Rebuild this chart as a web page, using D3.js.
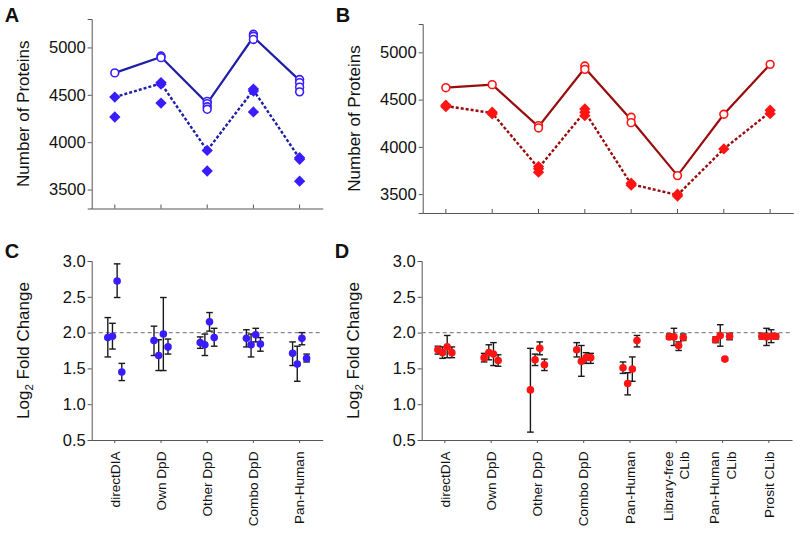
<!DOCTYPE html>
<html><head><meta charset="utf-8">
<script src="https://cdn.jsdelivr.net/npm/d3@7"></script>
<style>
html,body{margin:0;padding:0;background:#fff;}
svg{display:block;font-family:"Liberation Sans",Arial,sans-serif;}
</style></head>
<body>
<svg id="c" width="800" height="534"></svg>
<script>
// ---------- DATA ----------
const catsLeft = [["directDIA"],["Own DpD"],["Other DpD"],["Combo DpD"],["Pan-Human"]];
const catsRight = [["directDIA"],["Own DpD"],["Other DpD"],["Combo DpD"],["Pan-Human"],["Library-free","CLib"],["Pan-Human","CLib"],["Prosit CLib"]];
const proteinTicks = [3500,4000,4500,5000];
const fcTicks = [0.5,1.0,1.5,2.0,2.5,3.0];

// Panel A (protein counts)
const aSolid = [4731,4900,4410,5110,4652];
const aCircles = [[4731],[4909,4892],[4430,4406,4374,4347],[5139,5118,5084],[4661,4629,4581,4531]];
const aDashed = [4476,4620,3913,4550,3828];
const aDiamonds = [[4476,4266],[4629,4612,4413],[3913,3696],[4560,4539,4319],[3836,3820,3588]];

// Panel B (protein counts)
const bSolid = [4626,4658,4214,4834,4287,3696,4345,4873];
const bCircles = [[4626],[4658],[4224,4200],[4855,4820],[4313,4256],[3696],[4345],[4873]];
const bDashed = [4432,4358,3775,4372,3605,3490,3978,4370];
const bDiamonds = [[4440,4425],[4366,4348],[3791,3767,3732],[4401,4366,4330],[3615,3594],[3499,3480],[3978],[4387,4351]];

// Panel C (log2 fold change, 4 per category) value / low / high
const cVal = [[1.93,1.95,2.72,1.45],[1.89,1.68,1.98,1.80],[1.86,1.83,2.15,1.93],[1.92,1.83,1.97,1.84],[1.71,1.56,1.92,1.64]];
const cLo  = [[1.66,1.77,2.49,1.33],[1.68,1.47,1.47,1.70],[1.78,1.68,2.02,1.81],[1.80,1.66,1.87,1.74],[1.54,1.32,1.83,1.59]];
const cHi  = [[2.21,2.13,2.96,1.57],[2.09,1.90,2.49,1.91],[1.94,1.98,2.28,2.06],[2.04,1.98,2.06,1.93],[1.87,1.81,2.00,1.70]];

// Panel D
const dVal = [[1.76,1.72,1.80,1.72],[1.65,1.72,1.70,1.61],[1.20,1.62,1.78,1.55],[1.76,1.60,1.65,1.65],[1.51,1.29,1.49,1.89],[1.94,1.94,1.82,1.93],[1.90,1.96,1.63,1.95],[1.95,1.94,1.95,1.95]];
const dLo  = [[1.70,1.64,1.65,1.65],[1.59,1.62,1.54,1.53],[0.61,1.54,1.69,1.47],[1.66,1.39,1.57,1.57],[1.43,1.13,1.32,1.80],[1.91,1.82,1.75,1.89],[1.86,1.81,1.61,1.90],[1.91,1.82,1.86,1.91]];
const dHi  = [[1.81,1.80,1.96,1.80],[1.71,1.83,1.86,1.69],[1.78,1.70,1.87,1.63],[1.86,1.82,1.72,1.71],[1.59,1.44,1.66,1.96],[1.98,2.06,1.87,1.98],[1.94,2.11,1.65,1.99],[1.99,2.06,2.04,1.98]];
const reps = [0,1,2,3];
const refLine = 2.0;

// ---------- STYLE ----------
const blueMark = "#3a1dff", blueLine = "#1e1ea6";
const redMark = "#ff1414", redLine = "#9a0c0c";
const axisCol = "#555";
const svg = d3.select("#c");

function yAxis(g, scale, ticks, fmt){
  const ax = d3.axisLeft(scale).tickValues(ticks).tickFormat(fmt).tickSize(4).tickPadding(2);
  g.call(ax);
  g.select(".domain").attr("stroke", axisCol);
  g.selectAll(".tick line").attr("stroke", axisCol);
  g.selectAll(".tick text").attr("font-size", 16.5).attr("fill", "#111").attr("font-family","Liberation Sans, Arial, sans-serif");
}
function xAxis(g, scale, inner){
  const ax = d3.axisBottom(scale).tickFormat("").tickSizeOuter(0).tickSizeInner(inner);
  g.call(ax);
  g.select(".domain").attr("stroke", axisCol);
  g.selectAll(".tick line").attr("stroke", axisCol);
}

function proteinPanel(x0, x1, yTop, yBot, cats, solid, circles, dashed, diamonds, mark, line, letter){
  const x = d3.scaleBand().domain(d3.range(cats.length)).range([x0, x1]).padding(0);
  const cx = i => x(i) + x.bandwidth()/2;
  const y = d3.scaleLinear().domain([3300,5300]).range([yBot, yTop]);
  const g = svg.append("g");
  yAxis(g.append("g").attr("transform",`translate(${x0},0)`), y, proteinTicks, d3.format("d"));
  const gx = g.append("g").attr("transform",`translate(0,${yBot})`);
  xAxis(gx, x, -4);
  g.append("path").datum(solid).attr("fill","none").attr("stroke",line).attr("stroke-width",2.2)
    .attr("d", d3.line().x((d,i)=>cx(i)).y(d=>y(d)));
  g.append("path").datum(dashed).attr("fill","none").attr("stroke",line).attr("stroke-width",2.4)
    .attr("stroke-dasharray","3,2")
    .attr("d", d3.line().x((d,i)=>cx(i)).y(d=>y(d)));
  diamonds.forEach((arr,i)=>arr.forEach(v=>{
    g.append("path").attr("d", d3.symbol().type(d3.symbolSquare).size(64)())
      .attr("transform",`translate(${cx(i)},${y(v)}) rotate(45)`).attr("fill",mark);
  }));
  circles.forEach((arr,i)=>arr.forEach(v=>{
    g.append("circle").attr("cx",cx(i)).attr("cy",y(v)).attr("r",3.9)
      .attr("fill","#fff").attr("stroke",mark).attr("stroke-width",1.6);
  }));
  g.append("text").attr("transform",`translate(${x0-63},${(yTop+yBot)/2}) rotate(-90)`)
    .attr("text-anchor","middle").attr("font-size",17).attr("fill","#111").text("Number of Proteins");
  g.append("text").attr("x", x0-87).attr("y", 22).attr("font-size",20).attr("font-weight","bold").attr("fill","#111").text(letter);
}

function fcPanel(x0, x1, cats, vals, lo, hi, mark, letter){
  const yTop = 261, yBot = 440;
  const x = d3.scaleBand().domain(d3.range(cats.length)).range([x0, x1]).padding(0);
  const cx = i => x(i) + x.bandwidth()/2;
  const off = d3.scalePoint().domain(reps).range([-7, 7]);
  const y = d3.scaleLinear().domain([0.5,3.0]).range([yBot, yTop]);
  const g = svg.append("g");
  yAxis(g.append("g").attr("transform",`translate(${x0},0)`), y, fcTicks, d3.format(".1f"));
  const gx = g.append("g").attr("transform",`translate(0,${yBot})`);
  xAxis(gx, x, 3);
  g.append("line").attr("x1",x0).attr("x2",x1).attr("y1",y(refLine)).attr("y2",y(refLine))
    .attr("stroke","#8a8a8a").attr("stroke-width",1.3).attr("stroke-dasharray","4,3");
  cats.forEach((lab,i)=>{
    const n = lab.length;
    lab.forEach((t,k)=>{
      const dx = (k - (n-1)/2) * 16.6;
      g.append("text").attr("transform",`translate(${cx(i)+dx},${yBot+11.5}) rotate(-90)`)
        .attr("text-anchor","end").attr("dy","0.35em").attr("font-size",13.6).attr("fill","#111").text(t);
    });
  });
  vals.forEach((arr,i)=>arr.forEach((v,r)=>{
    const px = cx(i)+off(r);
    const eg = g.append("g").attr("stroke","#1a1a1a").attr("stroke-width",1.4);
    eg.append("line").attr("x1",px).attr("x2",px).attr("y1",y(lo[i][r])).attr("y2",y(hi[i][r]));
    eg.append("line").attr("x1",px-3.3).attr("x2",px+3.3).attr("y1",y(lo[i][r])).attr("y2",y(lo[i][r]));
    eg.append("line").attr("x1",px-3.3).attr("x2",px+3.3).attr("y1",y(hi[i][r])).attr("y2",y(hi[i][r]));
  }));
  vals.forEach((arr,i)=>arr.forEach((v,r)=>{
    g.append("circle").attr("cx",cx(i)+off(r)).attr("cy",y(v)).attr("r",3.8).attr("fill",mark);
  }));
  const tt = g.append("text").attr("transform",`translate(${x0-63},${(yTop+yBot)/2}) rotate(-90)`)
    .attr("text-anchor","middle").attr("font-size",17).attr("fill","#111");
  tt.append("tspan").text("Log");
  tt.append("tspan").attr("font-size",11.5).attr("dy",4).text("2");
  tt.append("tspan").attr("dy",-4).text(" Fold Change");
  g.append("text").attr("x", x0-87).attr("y", 258).attr("font-size",20).attr("font-weight","bold").attr("fill","#111").text(letter);
}

proteinPanel(91.7, 322.7, 19, 208.5, catsLeft, aSolid, aCircles, aDashed, aDiamonds, blueMark, blueLine, "A");
proteinPanel(422.7, 793.3, 24, 213, catsRight, bSolid, bCircles, bDashed, bDiamonds, redMark, redLine, "B");
fcPanel(91.7, 322.7, catsLeft, cVal, cLo, cHi, blueMark, "C");
fcPanel(421.7, 792, catsRight, dVal, dLo, dHi, redMark, "D");
</script>
</body></html>
